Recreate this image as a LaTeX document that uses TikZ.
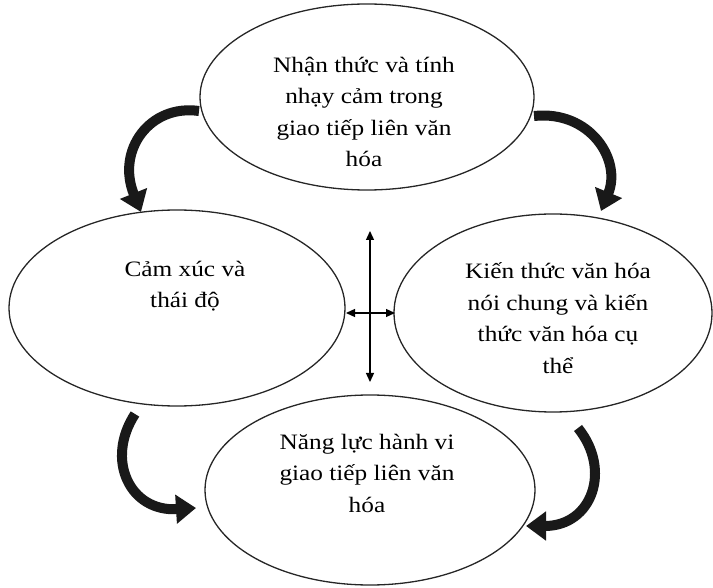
\documentclass[tikz,border=0pt]{standalone}
\usepackage{fontspec}
\setmainfont{Liberation Serif}[FakeStretch=1.15]
\usetikzlibrary{shapes.geometric,arrows.meta}
\begin{document}
\begin{tikzpicture}[x=1pt,y=-1pt,
  oval/.style={draw=black!85,line width=1.3pt,ellipse,inner sep=0pt},
  lbl/.style={align=center,font=\fontsize{22}{31.5}\selectfont,inner sep=0pt},
  bigarrow/.style={line width=10pt,-{Triangle[length=20pt,width=28pt]},black!90},
  cross/.style={line width=1.3pt,{Triangle[length=9pt,width=8pt]}-{Triangle[length=9pt,width=8pt]}}]
\useasboundingbox (0,0) rectangle (713,588);
\node[oval,minimum width=334pt,minimum height=186pt] (top) at (367,97) {};
\node[oval,minimum width=336pt,minimum height=196pt] (left) at (177,308) {};
\node[oval,minimum width=318pt,minimum height=198pt] (right) at (553,313) {};
\node[oval,minimum width=330pt,minimum height=190pt] (bot) at (370,490) {};
\node[lbl] (ttop) at (364,112) {Nhận thức và tính\\nhạy cảm trong\\giao tiếp liên văn\\hóa};
\node[lbl] (tleft) at (185,286) {Cảm xúc và\\thái độ};
\node[lbl] (tright) at (558,318) {Kiến thức văn hóa\\nói chung và kiến\\thức văn hóa cụ\\thể};
\node[lbl] (tbot) at (367,473) {Năng lực hành vi\\giao tiếp liên văn\\hóa};
\coordinate (vt) at (370,231);
\coordinate (vb) at (370,382);
\coordinate (hl) at (346,313);
\coordinate (hr) at (395,313);
\draw[cross] (vt) -- (vb);
\draw[cross] (hl) -- (hr);
\coordinate (a1) at (199,111);
\coordinate (a2) at (141,212);
\draw[bigarrow] (a1) .. controls (150,104) and (116,150) .. (a2);
\coordinate (b1) at (534,116);
\coordinate (b2) at (601,211);
\draw[bigarrow] (b1) .. controls (590,110) and (622,160) .. (b2);
\coordinate (c1) at (135,414);
\coordinate (c2) at (196,508);
\draw[bigarrow] (c1) .. controls (105,460) and (130,512) .. (c2);
\coordinate (d1) at (578,428);
\coordinate (d2) at (526,526);
\draw[bigarrow] (d1) .. controls (612,470) and (592,526) .. (d2);
\end{tikzpicture}
\end{document}
